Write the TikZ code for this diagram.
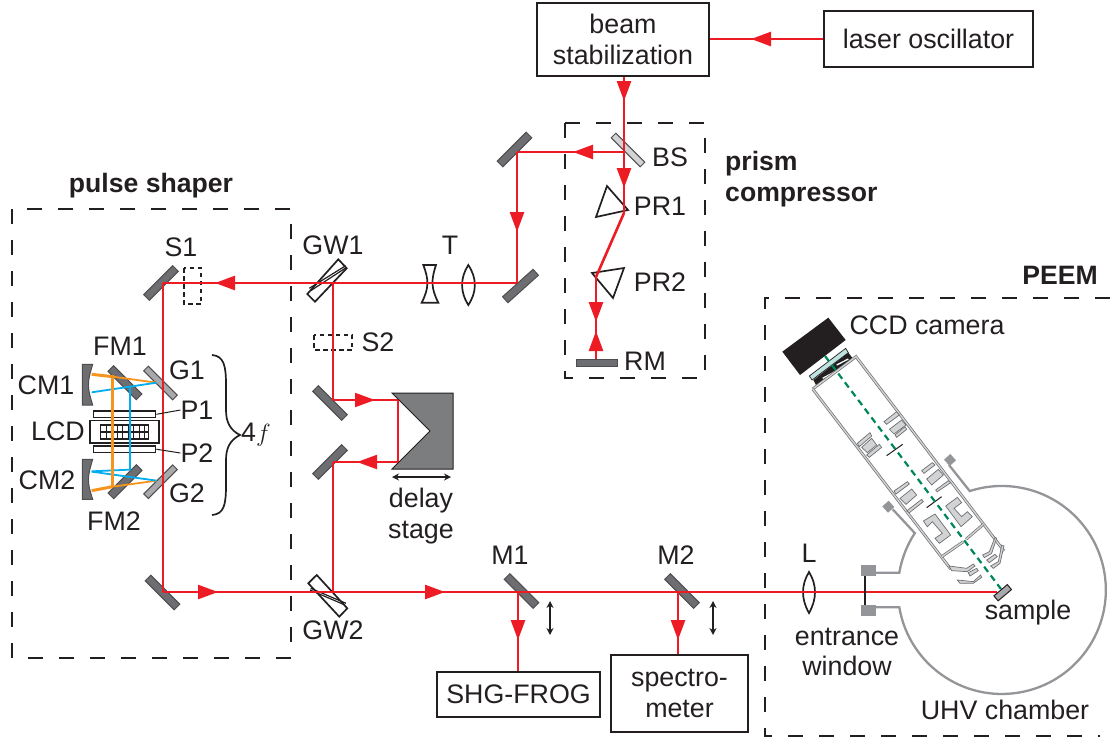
\documentclass[tikz,border=0pt]{standalone}
\usepackage{amsmath}
\usepackage{fontspec}
\setmainfont{Liberation Sans}
\usetikzlibrary{arrows.meta,decorations.markings}

\definecolor{beamred}{HTML}{ED1C24}
\definecolor{mirgray}{HTML}{6D6E71}
\definecolor{bargray}{HTML}{A7A9AC}
\definecolor{chambergray}{HTML}{939598}
\definecolor{partgray}{HTML}{D1D3D4}
\definecolor{shaperorange}{HTML}{F7941D}
\definecolor{shaperblue}{HTML}{00AEEF}
\definecolor{axisgreen}{HTML}{00865A}
\definecolor{inkblack}{HTML}{231F20}
\definecolor{glassblue}{HTML}{BFE3E0}

\tikzset{
  lbl/.style={inner sep=0pt,text=inkblack,font=\fontsize{26.8}{30.5}\selectfont,align=center},
  boldlbl/.style={lbl,font=\fontsize{26.6}{31}\selectfont\bfseries},
  instrument/.style={lbl,draw=inkblack,line width=2pt},
  framedash/.style={draw=inkblack,line width=1.8pt,dash pattern=on 15pt off 16pt},
  beam/.style={draw=beamred,line width=2.6pt},
  thinbeam/.style={draw=beamred,line width=2pt},
  tipat/.style={postaction={decorate,decoration={markings,mark=at position #1 with {\arrow[beamred]{Triangle[length=20pt,width=14pt]}}}}},
  mirrorbar/.style={draw=inkblack!80,line width=1pt,fill=mirgray,inner sep=0pt,minimum width=41pt,minimum height=8pt},
  gratingbar/.style={mirrorbar,fill=bargray,minimum height=6.5pt},
  optic/.style={draw=inkblack,line width=1.7pt},
  wall/.style={draw=mirgray,double=partgray,line width=.7pt,double distance=1.4pt},
  part/.style={draw=mirgray,fill=partgray,line width=.7pt},
  port/.style={draw=chambergray,line width=2.3pt},
  flange/.style={fill=chambergray,inner sep=0pt,minimum size=#1},
  travel/.style={draw=inkblack,line width=1.4pt,{Stealth[length=7pt,width=7pt]}-{Stealth[length=7pt,width=7pt]}}
}

\begin{document}
\begin{tikzpicture}[x=1pt,y=-1pt]
  \useasboundingbox (0,0) rectangle (1115,740);

  \draw[framedash] (12,209) rectangle (291,658);
  \draw[framedash] (565,123) rectangle (705,378);
  \draw[framedash] (1110,298) -- (765,298) -- (765,736) -- (1100,736);
  \draw[draw=inkblack,line width=1.3pt,dash pattern=on 4.5pt off 3.5pt] (184,268) rectangle (201,304);
  \draw[draw=inkblack,line width=1.3pt,dash pattern=on 4.5pt off 3.5pt] (314,335) rectangle (352,350);

  \node[instrument,minimum width=172pt,minimum height=73pt] (stab) at (623,39.5) {beam\\stabilization};
  \node[instrument,minimum width=209pt,minimum height=56pt] (laser) at (928.5,39) {laser oscillator};
  \node[instrument,minimum width=163pt,minimum height=45pt] (frog) at (518.5,694.5) {SHG-FROG};
  \node[instrument,minimum width=137pt,minimum height=77pt] (spec) at (679.5,693.5) {spectro-\\meter};

  \node[gratingbar,rotate=-45,fill=partgray] (mBS) at (628,150) {};
  \node[mirrorbar,rotate=45] (mTopA) at (514.5,149.5) {};
  \node[mirrorbar,rotate=42] (mTopB) at (520.5,286) {};
  \node[mirrorbar,rotate=45] (mInA) at (161,283) {};
  \node[mirrorbar,rotate=-45] (mInB) at (162.5,592.5) {};
  \node[mirrorbar,rotate=-45] (mDelayA) at (330,403) {};
  \node[mirrorbar,rotate=45] (mDelayB) at (330,462) {};
  \node[mirrorbar,rotate=-45] (mOne) at (521.5,591) {};
  \node[mirrorbar,rotate=-45] (mTwo) at (682,591) {};
  \node[mirrorbar,rotate=0,minimum height=7pt] (mRM) at (596.5,362.5) {};
  \node[gratingbar,rotate=-45] (gOne) at (160.5,383) {};
  \node[gratingbar,rotate=45] (gTwo) at (160.5,481.7) {};
  \node[mirrorbar,rotate=-45,minimum width=40pt] (fmOne) at (125,382.7) {};
  \node[mirrorbar,rotate=45,minimum width=40pt] (fmTwo) at (125,481.7) {};

  \draw[mirrorbar] (82.3,364.3) -- (92.7,364.3) .. controls (87,383) and (87,387) .. (92.7,405) -- (82.3,405) -- cycle;
  \draw[mirrorbar] (82.3,459.3) -- (92.7,459.3) .. controls (87,478) and (87,482) .. (92.7,499.3) -- (82.3,499.3) -- cycle;

  \node[draw=inkblack,line width=1.3pt,inner sep=0pt,minimum width=62.4pt,minimum height=6.6pt] (pOne) at (124.5,414.3) {};
  \node[draw=inkblack,line width=1.3pt,inner sep=0pt,minimum width=62.4pt,minimum height=6.4pt] (pTwo) at (124.5,449.2) {};
  \node[draw=inkblack,line width=1.5pt,inner sep=0pt,minimum width=69pt,minimum height=22.5pt] (lcd) at (124.7,431.7) {};
  \draw[draw=inkblack,line width=1.4pt] (100.5,425) rectangle (148.5,439);
  \draw[draw=inkblack,line width=1.2pt] (100.5,432) -- (148.5,432);
  \foreach \cellx in {106,111.5,117,122.5,128,133.5,139,144} {
    \draw[draw=inkblack,line width=1pt] (\cellx,425) -- (\cellx,439);
  }

  \begin{scope}[shift={(0,330)},x=.3333pt,y=-.3333pt]
    \draw[draw=shaperorange,line width=1.8pt] (338,140) -- (470,158);
    \draw[draw=shaperorange,line width=1.8pt] (338,470) -- (470,452);
    \draw[draw=shaperblue,line width=1.8pt] (275,187) -- (470,158);
    \draw[draw=shaperblue,line width=1.8pt] (275,425) -- (470,452);
    \draw[draw=shaperblue,line width=1.8pt] (275,424) -- (390,419) -- (390,172);
    \draw[draw=shaperorange,line width=2.6pt] (338,135) -- (338,470);
    \draw[draw=shaperorange,line width=3pt] (275,133) -- (338,140);
    \draw[draw=shaperorange,line width=3pt] (275,482) -- (338,470);
  \end{scope}

  \draw[optic] (607,186) -- (628,210) -- (596,217) -- cycle;
  \draw[optic] (592,273) -- (624,268) -- (613,298) -- cycle;

  \draw[optic] (423.3,265) -- (436,265) .. controls (431,280) and (431,288) .. (438.3,302.7) -- (421.7,302.7) .. controls (429,288) and (429,280) .. (423.3,265) -- cycle;
  \draw[optic] (468.3,265) .. controls (460,278) and (460,292) .. (468.3,305) .. controls (477,292) and (477,278) .. (468.3,265) -- cycle;
  \draw[optic] (809,572) .. controls (801,585) and (801,599) .. (809,613) .. controls (817,599) and (817,585) .. (809,572) -- cycle;

  \draw[optic] (338.3,259.3) -- (346.7,268.3) -- (315,301.7) -- (307.3,294) -- cycle;
  \draw[optic,line width=1.2pt] (309.3,288.3) -- (345.7,265.7);
  \draw[optic,line width=1.2pt] (310.7,290.7) -- (346,267.7);
  \draw[optic] (308.3,583.3) -- (316.7,575) -- (347.3,608.3) -- (339.3,616.7) -- cycle;
  \draw[optic,line width=1.2pt] (310.7,588.3) -- (346,603.3);
  \draw[optic,line width=1.2pt] (310,590) -- (345,605);

  \draw[draw=inkblack,line width=1pt,fill=mirgray!90] (392,393) -- (453,393) -- (453,469) -- (392,469) -- (430,431) -- cycle;
  \draw[travel] (392,477) -- (451,477);
  \draw[travel] (550,601) -- (550,635);
  \draw[travel] (713,601) -- (713,635);

  \coordinate (jBS) at (624,152);
  \coordinate (jTopA) at (517,152);
  \coordinate (jTopB) at (517,283);
  \coordinate (jPrA) at (624,213);
  \coordinate (jPrB) at (596,277);
  \coordinate (jRM) at (596,359);
  \coordinate (jGWa) at (333,283);
  \coordinate (jInA) at (163,283);
  \coordinate (jInB) at (163,592);
  \coordinate (jDa) at (333,400);
  \coordinate (jDb) at (398,400);
  \coordinate (jDc) at (398,462);
  \coordinate (jDd) at (333,462);
  \coordinate (jGWb) at (333,592);
  \coordinate (jOne) at (518,592);
  \coordinate (jTwo) at (678,592);
  \coordinate (jSample) at (997,592);

  \draw[beam,tipat=72pt] (laser.west) -- (stab.east |- laser.west);
  \draw[beam,tipat=24pt] (jBS |- stab.south) -- (jBS);
  \draw[beam,tipat=51pt] (jBS) -- (jTopA);
  \draw[beam,tipat=80pt] (jTopA) -- (jTopB);
  \draw[beam,tipat=36pt] (jBS) -- (jPrA);
  \draw[beam] (jPrA) -- (jPrB);
  \draw[beam,tipat=45pt] (jPrB) -- (jRM);
  \draw[beam,tipat=28pt] (jRM) -- (jPrB);
  \draw[beam,tipat=302pt] (jTopB) -- (jInA);
  \draw[beam] (jInA) -- (jInB);
  \draw[beam,tipat=55pt,tipat=282pt] (jInB) -- (jSample);
  \draw[beam] (jGWa) -- (jDa);
  \draw[thinbeam,tipat=42pt] (jDa) -- (jDb);
  \draw[thinbeam] (jDb) -- (jDc);
  \draw[thinbeam,tipat=41pt] (jDc) -- (jDd);
  \draw[beam] (jDd) -- (jGWb);
  \draw[beam,tipat=48pt] (jOne) -- (frog.north -| jOne);
  \draw[beam,tipat=48pt] (jTwo) -- (spec.north -| jTwo);

  \draw[port] (876,572.7) -- (899.3,572.7) arc[start angle=170.4,end angle=146.8,radius=104pt] -- (892.7,509.3);
  \draw[port] (876,607.3) -- (899.3,607.3) arc[start angle=189.6,end angle=468,radius=104pt] -- (949,465);
  \node[flange=8.5pt,rotate=42] (portA) at (888.3,506.7) {};
  \node[flange=8.5pt,rotate=42] (portB) at (950,460) {};
  \node[flange=0pt,minimum width=15.3pt,minimum height=11pt] (winA) at (868.3,570.5) {};
  \node[flange=0pt,minimum width=15.3pt,minimum height=11pt] (winB) at (868.3,610.5) {};
  \draw[draw=inkblack,line width=1.8pt] (865,576) -- (865,605);

  \begin{scope}[shift={(780,315)},x=.3333pt,y=-.3333pt]
    \fill[inkblack] (145,8) -- (197,75) -- (60,180) -- (7,110) -- cycle;
    \fill[inkblack] (100,195) -- (205,113) -- (222,135) -- (112,218) -- cycle;
    \draw[draw=white,line width=1.3pt] (118,207) -- (146,194);
    \draw[draw=white,line width=1.3pt] (128,190) -- (165,170);
    \draw[draw=white,line width=1.3pt] (158,185) -- (195,165);
    \draw[draw=white,line width=1.3pt] (170,150) -- (205,132);
    \draw[draw=inkblack,line width=.7pt,fill=glassblue] (88,183) -- (197,100) -- (205,113) -- (96,195) -- cycle;
    \draw[wall,fill=white] (98,222) -- (228,125) -- (672,708);
    \draw[wall] (98,222) -- (512,762);
  \end{scope}

  \begin{scope}[shift={(770,310)},x=.3333pt,y=-.3333pt]
    \draw[part] (342,335) -- (380,305) -- (388,315) -- (350,343) -- cycle;
    \draw[part] (358,358) -- (395,330) -- (408,345) -- (372,372) -- cycle;
    \draw[part] (375,375) -- (405,350) -- (410,358) -- (380,382) -- cycle;
    \draw[part] (262,400) -- (300,368) -- (305,378) -- (268,410) -- cycle;
    \draw[part] (275,412) -- (305,385) -- (320,405) -- (292,428) -- cycle;
    \draw[part] (290,435) -- (328,403) -- (335,412) -- (298,442) -- cycle;
    \draw[draw=inkblack,line width=1pt] (350,437) -- (398,403);
  \end{scope}

  \begin{scope}[shift={(880,440)},x=.3333pt,y=-.3333pt]
    \draw[part] (125,92) -- (157,68) -- (165,75) -- (132,100) -- cycle;
    \draw[part] (140,117) -- (175,88) -- (190,105) -- (155,135) -- cycle;
    \draw[part] (167,150) -- (205,122) -- (212,128) -- (172,155) -- cycle;
    \draw[part] (42,153) -- (82,125) -- (88,132) -- (48,162) -- cycle;
    \draw[part] (60,175) -- (95,147) -- (110,165) -- (78,193) -- cycle;
    \draw[part] (80,213) -- (125,178) -- (130,185) -- (88,218) -- cycle;
    \draw[part] (197,198) -- (232,172) -- (245,188) -- (222,205) -- (245,230) -- (262,215) -- (277,230) -- (243,260) -- cycle;
    \draw[part] (130,243) -- (165,222) -- (212,285) -- (178,310) -- (165,295) -- (187,280) -- (157,245) -- (142,260) -- cycle;
    \draw[wall] (185,350) -- (250,305);
    \draw[wall] (258,298) -- (310,253);
    \draw[part] (207,378) -- (260,385) -- (280,372) -- (285,378) -- (262,395) -- (215,392) -- cycle;
    \draw[part] (265,398) -- (290,385) -- (295,392) -- (270,408) -- cycle;
    \draw[part] (232,420) -- (280,425) -- (302,405) -- (305,412) -- (280,430) -- (240,430) -- cycle;
    \draw[part] (345,292) -- (328,335) -- (308,345) -- (313,353) -- (335,340) -- (350,295) -- cycle;
    \draw[part] (320,360) -- (345,343) -- (352,350) -- (328,368) -- cycle;
    \draw[part] (332,378) -- (355,365) -- (365,315) -- (372,318) -- (360,370) -- (340,385) -- cycle;
    \draw[draw=inkblack,line width=1pt] (140,203) -- (185,170);
  \end{scope}

  \node[draw=inkblack,line width=1pt,fill=bargray,inner sep=0pt,minimum width=17.5pt,minimum height=6.5pt,rotate=40] (smp) at (1002.7,592.7) {};
  \draw[draw=axisgreen,line width=2.2pt,dash pattern=on 6.5pt off 4.5pt] (825,356) -- (1001,589);

  \node[lbl] (lblBS) at (670,157) {BS};
  \node[lbl] (lblPRa) at (660,206) {PR1};
  \node[lbl] (lblPRb) at (660,282) {PR2};
  \node[lbl] (lblRM) at (645,361) {RM};
  \node[boldlbl,anchor=west,align=left] (lblPrism) at (725,179) {prism\\compressor};
  \node[boldlbl] (lblShaper) at (151,185.5) {pulse shaper};
  \node[boldlbl,anchor=east] (lblPeem) at (1098,275) {PEEM};
  \node[lbl] (lblT) at (450,245) {T};
  \node[lbl] (lblGWa) at (333,245) {GW1};
  \node[lbl] (lblGWb) at (333,630) {GW2};
  \node[lbl] (lblSa) at (181,247) {S1};
  \node[lbl] (lblSb) at (378,342) {S2};
  \node[lbl] (lblFMa) at (120,346) {FM1};
  \node[lbl] (lblFMb) at (114,521) {FM2};
  \node[lbl] (lblCMa) at (46,385) {CM1};
  \node[lbl] (lblCMb) at (47,480) {CM2};
  \node[lbl] (lblGa) at (187,370) {G1};
  \node[lbl] (lblGb) at (187,493) {G2};
  \node[lbl] (lblLCD) at (58,431) {LCD};
  \node[lbl] (lblPa) at (197,410) {P1};
  \node[lbl] (lblPb) at (197,453) {P2};
  \node[lbl] (lblFour) at (256,435) {4$f$};
  \node[lbl] (lblDelay) at (421,516) {delay\\stage};
  \node[lbl] (lblMa) at (510,555) {M1};
  \node[lbl] (lblMb) at (676,555) {M2};
  \node[lbl] (lblL) at (809,553) {L};
  \node[lbl] (lblWin) at (847,652) {entrance\\window};
  \node[lbl] (lblSample) at (1028,613) {sample};
  \node[lbl] (lblUHV) at (1005,710) {UHV chamber};
  \node[lbl] (lblCCD) at (927,325) {CCD camera};

  \draw[draw=inkblack,line width=1pt] (pOne.east) -- (lblPa.west);
  \draw[draw=inkblack,line width=1pt] (pTwo.east) -- (lblPb.west);
  \draw[draw=inkblack,line width=1.7pt] (212,355) .. controls (224,356) and (226,366) .. (226,385) -- (226,410) .. controls (226,422) and (230,430) .. (240,435) .. controls (230,440) and (226,448) .. (226,460) -- (226,485) .. controls (226,505) and (224,514) .. (212,515);
\end{tikzpicture}
\end{document}
